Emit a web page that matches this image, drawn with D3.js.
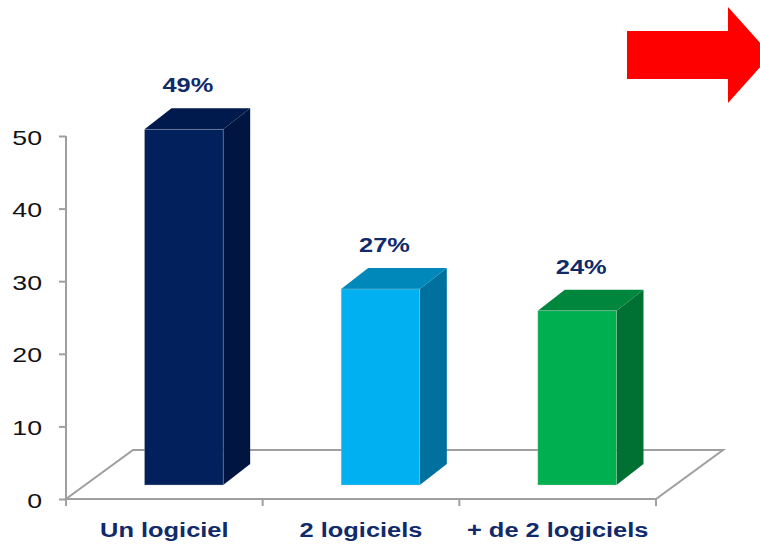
<!DOCTYPE html>
<html>
<head>
<meta charset="utf-8">
<script src="https://cdn.jsdelivr.net/npm/d3@7"></script>
<style>
  html, body { margin: 0; padding: 0; background: #fff; }
  svg { display: block; }
  text { font-family: "Liberation Sans", Arial, sans-serif; }
</style>
</head>
<body>
<svg id="chart" width="760" height="547"></svg>
<script>
// Chart data
const categories = ["Un logiciel", "2 logiciels", "+ de 2 logiciels"];
const values = [49, 27, 24];
const valueLabels = ["49%", "27%", "24%"];
const yTicks = [0, 10, 20, 30, 40, 50];

// Face colours per bar: front, top, side
const frontColors = ["#01205C", "#00B0F0", "#00B050"];
const topColors = ["#001A4D", "#0088BA", "#00873D"];
const sideColors = ["#001640", "#00719F", "#007132"];

const W = 760, H = 547;
const svg = d3.select("#chart");

const y = d3.scaleLinear().domain([0, 50]).range([499, 136]);
const x = d3.scaleBand().domain(categories).range([66, 656]).paddingInner(0).paddingOuter(0);

// 3D geometry
const floorDx = 67, floorDy = -49;      // floor depth
const barDx = 27, barDy = -21;          // bar depth
const baseDx = 19.5, baseDy = -14;      // bar front-face offset into the floor
const barW = x.bandwidth() * 0.4;
const stretch = 1.27;                    // horizontal text stretch
const axisColor = "#9f9f9f";
const labelColor = "#102A6A";

// Floor
const x0 = x.range()[0], x1 = x.range()[1], yb = y(0);
svg.append("path")
  .attr("d", `M${x0},${yb} L${x1},${yb} L${x1 + floorDx},${yb + floorDy} L${x0 + floorDx},${yb + floorDy} Z`)
  .attr("fill", "#fff")
  .attr("stroke", axisColor)
  .attr("stroke-width", 2)
  .attr("stroke-linejoin", "miter");

// Y axis
const yAxis = svg.append("g")
  .attr("transform", `translate(${x0},0)`)
  .call(d3.axisLeft(y).tickValues(yTicks).tickSize(7).tickSizeOuter(0).tickPadding(17));
yAxis.select(".domain").attr("stroke", axisColor).attr("stroke-width", 2)
  .attr("d", `M0,${y(50)}V${yb + 7}`);
yAxis.selectAll(".tick line").attr("stroke", axisColor).attr("stroke-width", 2);
yAxis.selectAll(".tick text")
  .attr("x", null).attr("dy", null)
  .attr("transform", `translate(-24,8) scale(${stretch},1)`)
  .attr("font-size", 21)
  .attr("font-family", "'Liberation Sans', Arial, sans-serif")
  .attr("fill", "#111");

// X axis: tick marks at category boundaries, labels centred in each band
const xAxis = svg.append("g").attr("transform", `translate(0,${yb})`);
xAxis.append("line").attr("x1", x0).attr("x2", x1).attr("y1", 0).attr("y2", 0)
  .attr("stroke", axisColor).attr("stroke-width", 2);
const boundaries = categories.map(c => x(c)).concat([x1]);
xAxis.selectAll("line.tk").data(boundaries).join("line")
  .attr("class", "tk")
  .attr("x1", d => d).attr("x2", d => d).attr("y1", 0).attr("y2", 7)
  .attr("stroke", axisColor).attr("stroke-width", 2);
xAxis.selectAll("text.cat").data(categories).join("text")
  .attr("class", "cat")
  .attr("transform", d => `translate(${x(d) + x.bandwidth() / 2},38) scale(${stretch},1)`)
  .attr("text-anchor", "middle")
  .attr("font-size", 20)
  .attr("font-weight", "bold")
  .attr("fill", labelColor)
  .text(d => d);

// Bars
const bars = svg.append("g").selectAll("g").data(values).join("g");
const fx = (d, i) => x(categories[i]) + x.bandwidth() / 2 - barW / 2 + baseDx;
const fTop = d => y(d) + baseDy;
const fBot = yb + baseDy;

bars.append("path") // side
  .attr("d", (d, i) => {
    const r = fx(d, i) + barW;
    return `M${r},${fTop(d)} L${r + barDx},${fTop(d) + barDy} L${r + barDx},${fBot + barDy} L${r},${fBot} Z`;
  })
  .attr("fill", (d, i) => sideColors[i]);
bars.append("path") // top
  .attr("d", (d, i) => {
    const l = fx(d, i), r = l + barW, t = fTop(d);
    return `M${l},${t} L${r},${t} L${r + barDx},${t + barDy} L${l + barDx},${t + barDy} Z`;
  })
  .attr("fill", (d, i) => topColors[i]);
bars.append("rect") // front
  .attr("x", (d, i) => fx(d, i))
  .attr("y", d => fTop(d))
  .attr("width", barW)
  .attr("height", d => fBot - fTop(d))
  .attr("fill", (d, i) => frontColors[i])
  .attr("stroke", "rgba(200,200,200,0.6)")
  .attr("stroke-width", 0.6);

// Value labels
bars.append("text")
  .attr("transform", (d, i) => `translate(${fx(d, i) + barW / 2 + 4},${fTop(d) + barDy - 16}) scale(${stretch},1)`)
  .attr("text-anchor", "middle")
  .attr("font-size", 20)
  .attr("font-weight", "bold")
  .attr("fill", labelColor)
  .text((d, i) => valueLabels[i]);

// Red arrow, top right
svg.append("path")
  .attr("d", "M627,31 L728,31 L728,7 L771,55 L728,103 L728,79 L627,79 Z")
  .attr("fill", "#FF0000");
</script>
</body>
</html>
